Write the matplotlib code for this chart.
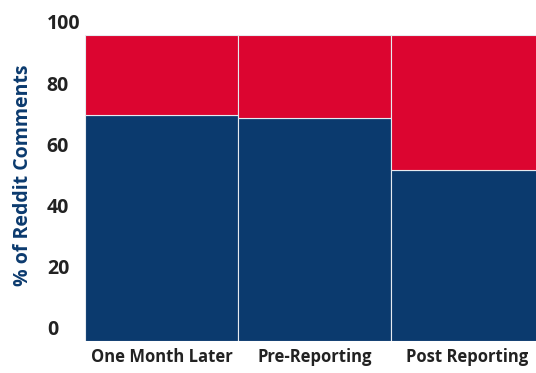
import matplotlib
matplotlib.use("Agg")
import matplotlib.pyplot as plt
from matplotlib.transforms import ScaledTranslation

# data
categories = ["One Month Later", "Pre-Reporting", "Post Reporting"]
blue_share = [74, 73, 56]
red_share = [26, 27, 44]

blue = "#0b3a6e"
red = "#dc0530"

plt.rcParams["font.family"] = ["Open Sans", "DejaVu Sans"]

fig = plt.figure(figsize=(5.36, 3.73), dpi=100)
ax = fig.add_axes([85 / 536, 32 / 373, 451 / 536, 306 / 373])

x = range(len(categories))
ax.bar(x, blue_share, width=1.0, color=blue, edgecolor="#e6eaf0", linewidth=0.8)
ax.bar(x, red_share, width=1.0, bottom=blue_share, color=red, edgecolor="#e6eaf0", linewidth=0.8)

ax.set_xlim(-0.5, 2.448)
ax.set_ylim(0, 100)
ax.set_yticks([0, 20, 40, 60, 80, 100])
ax.set_xticks(list(x))
ax.set_xticklabels(categories, fontsize=12, fontweight="bold", color="#222222")

for s in ax.spines.values():
    s.set_visible(False)

ax.tick_params(axis="x", length=0, pad=5)
ax.tick_params(axis="y", length=0, pad=27.5)
for lab in ax.get_yticklabels():
    lab.set_horizontalalignment("left")
    lab.set_fontsize(14)
    lab.set_fontweight("bold")
    lab.set_color("#222222")
    lab.set_transform(lab.get_transform() + ScaledTranslation(0, 9.5 / 72, fig.dpi_scale_trans))

fig.text(23 / 536, (373 - 175) / 373, "% of Reddit Comments", rotation=90, ha="center", va="center",
         fontsize=14, fontweight="bold", color=blue)

fig.savefig("out.png", dpi=100)
